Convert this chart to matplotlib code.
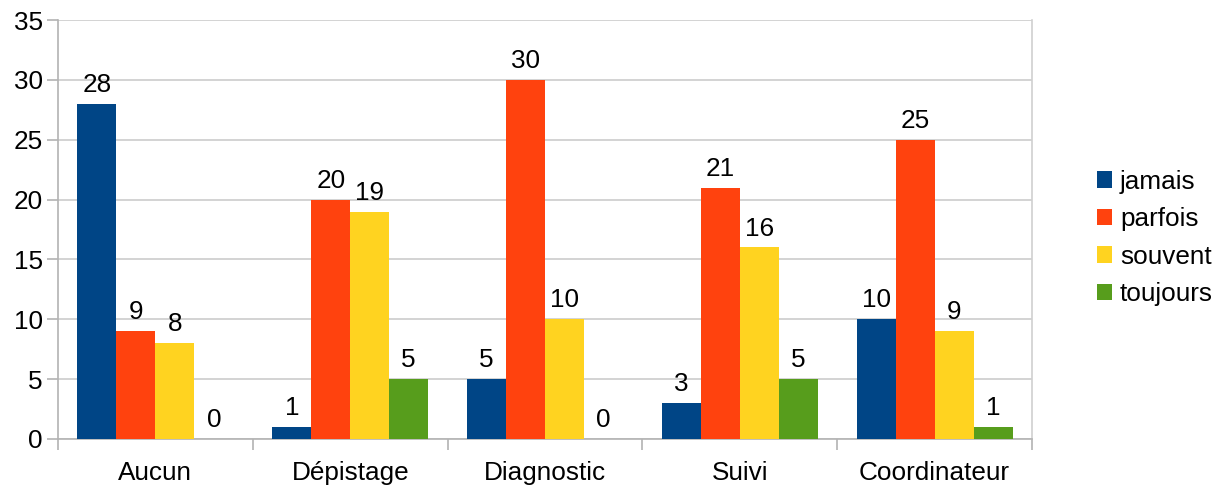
import numpy as np
import matplotlib.pyplot as plt

plt.rcParams['font.family'] = ['Liberation Sans', 'DejaVu Sans']

categories = ["Aucun", "Dépistage", "Diagnostic", "Suivi", "Coordinateur"]
series_names = ["jamais", "parfois", "souvent", "toujours"]
jamais = [28, 1, 5, 3, 10]
parfois = [9, 20, 30, 21, 25]
souvent = [8, 19, 10, 16, 9]
toujours = [0, 5, 0, 5, 1]
colors = ["#004586", "#ff420e", "#ffd320", "#579d1c"]

values = [jamais, parfois, souvent, toujours]
fs = 18.8

fig = plt.figure(figsize=(12.15, 4.88), dpi=100)
ax = fig.add_axes([58 / 1215, 49 / 488, 974 / 1215, 419 / 488])

x = np.arange(len(categories))
w = 0.2
for i, (name, vals, c) in enumerate(zip(series_names, values, colors)):
    pos = x - 0.3 + i * w
    bars = ax.bar(pos, vals, width=w, color=c, label=name, zorder=3)
    for b, v in zip(bars, vals):
        ax.annotate(str(v), (b.get_x() + b.get_width() / 2, v),
                    xytext=(0, 5), textcoords="offset points",
                    ha="center", va="bottom", fontsize=fs, color="black")

ax.set_xlim(-0.5, len(categories) - 0.5)
ax.set_ylim(0, 35)
ax.set_yticks(range(0, 36, 5))
ax.yaxis.grid(True, color="#cccccc", linewidth=1.2, zorder=0)

ax.set_xticks(x)
ax.set_xticklabels(categories)
ax.set_xticks(np.arange(-0.5, len(categories)), minor=True)
ax.tick_params(axis="x", which="major", length=0, pad=16, labelsize=fs)
ax.tick_params(axis="x", which="minor", length=8, width=1.2, color="#b3b3b3")
ax.tick_params(axis="y", length=8, width=1.2, color="#b3b3b3", pad=3, labelsize=fs)

for side in ["left", "bottom"]:
    ax.spines[side].set_color("#b3b3b3")
    ax.spines[side].set_linewidth(1.2)
ax.spines["right"].set_color("#d0d0d0")
ax.spines["right"].set_linewidth(1.2)
ax.spines["top"].set_visible(False)

ax.legend(loc="center left", bbox_to_anchor=(1.0555, 0.48), frameon=False,
          fontsize=fs, handlelength=0.6, handleheight=0.6,
          handletextpad=0.3, labelspacing=0.52, borderaxespad=0)

fig.savefig("out.png", dpi=100)
